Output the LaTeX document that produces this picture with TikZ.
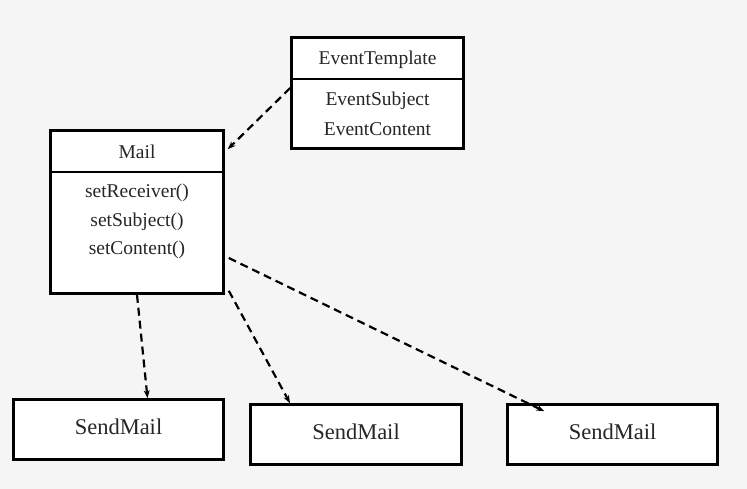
\documentclass[tikz,border=0pt]{standalone}
\usepackage{fontspec}
\setmainfont{Liberation Serif}
\usetikzlibrary{arrows.meta}
\begin{document}
\begin{tikzpicture}[x=1pt,y=-1pt,
  box/.style={draw=black, line width=2.6pt, fill=white, inner sep=0pt, rectangle},
  divider/.style={line width=2.6pt},
  lbl/.style={inner sep=0pt, font=\fontsize{19.5}{21}\selectfont, text=black!85},
  big/.style={inner sep=0pt, font=\fontsize{22.5}{24}\selectfont, text=black!85},
  dep/.style={line width=2.2pt, dash pattern=on 8pt off 5pt, -{Stealth[length=8pt,width=6pt]}}
]
\fill[white!96!black] (0,0) rectangle (747,489);
\useasboundingbox (0,0) rectangle (747,489);

% EventTemplate
\node[box, minimum width=172pt, minimum height=111pt] (et) at (377.5,93) {};
\draw[divider] (et.west |- 0,79) coordinate (etdl) -- (et.east |- 0,79) coordinate (etdr);
\node[lbl] (ett) at (377.5,60) {EventTemplate};
\node[lbl] (ets) at (377.5,101) {EventSubject};
\node[lbl] (etc) at (377.5,129) {EventContent};

% Mail
\node[box, minimum width=173pt, minimum height=163pt] (mail) at (137,212) {};
\draw[divider] (mail.west |- 0,172) coordinate (mdl) -- (mail.east |- 0,172) coordinate (mdr);
\node[lbl] (mt) at (137,152) {Mail};
\node[lbl] (m1) at (137,193) {setReceiver()};
\node[lbl] (m2) at (137,222) {setSubject()};
\node[lbl] (m3) at (137,250) {setContent()};

% SendMail boxes
\node[box, minimum width=210pt, minimum height=60pt] (s1) at (118.5,429.5) {};
\node[big] (s1t) at (118.5,427) {SendMail};
\node[box, minimum width=211pt, minimum height=60pt] (s2) at (356,434.5) {};
\node[big] (s2t) at (356,432) {SendMail};
\node[box, minimum width=210pt, minimum height=60pt] (s3) at (612.5,434.5) {};
\node[big] (s3t) at (612.5,432) {SendMail};

% dependencies
\draw[dep] ([yshift=5pt]et.west) -- ([xshift=3pt,yshift=-20pt]mail.north east);
\draw[dep] (mail.south) -- ([xshift=29pt]s1.north);
\draw[dep] ([xshift=4pt,yshift=4pt]mail.south east) -- ([xshift=-66pt]s2.north);
\draw[dep] ([xshift=4pt,yshift=-46pt]mail.east) -- ([xshift=38pt,yshift=-8pt]s3.north west);
\end{tikzpicture}
\end{document}
